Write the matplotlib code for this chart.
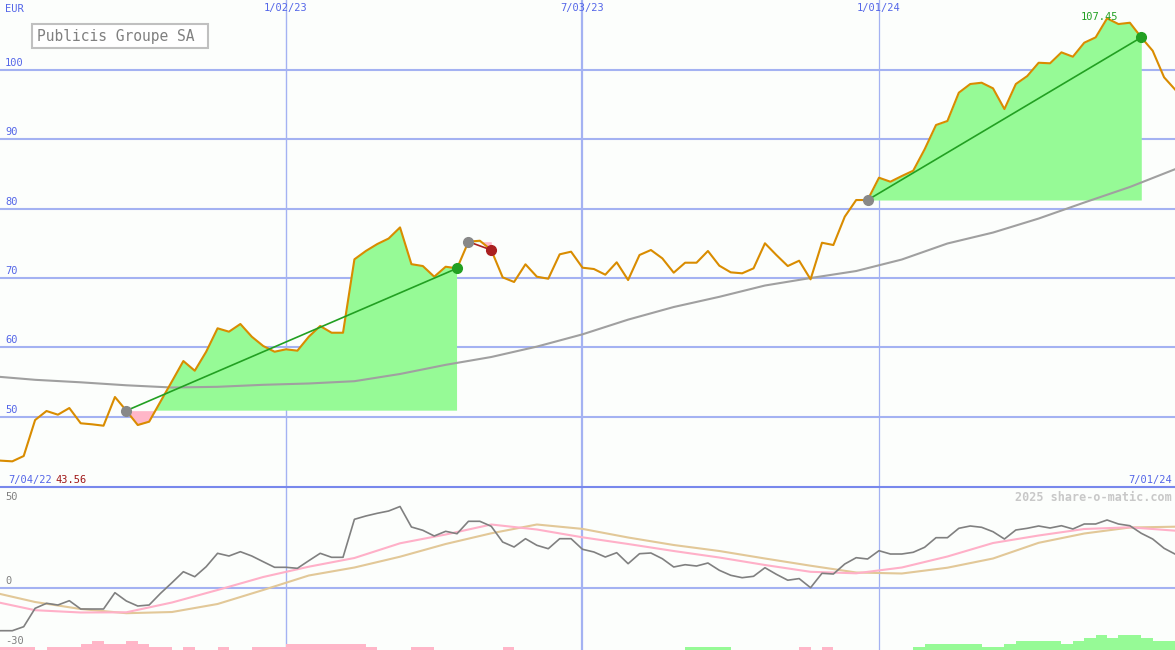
import numpy as np
import pandas as pd
import matplotlib
matplotlib.use('Agg')
import matplotlib.pyplot as plt
from matplotlib.lines import Line2D
from matplotlib.patches import Rectangle

# weekly closes (Monday dates), 4 Jul 2022 .. 1 Jul 2024
price = [43.80, 43.66, 43.56, 44.33, 49.52, 50.82, 50.29, 51.25, 49.05, 48.90,
         48.70, 52.84, 50.87, 48.80, 49.28, 52.20, 55.10, 58.03, 56.63, 59.37,
         62.75, 62.26, 63.37, 61.54, 60.20, 59.37, 59.72, 59.52, 61.54, 63.08,
         62.11, 62.11, 72.70, 73.90, 74.90, 75.70, 77.30, 72.00, 71.73, 70.19,
         71.63, 71.40, 75.24, 75.38, 74.04, 70.10, 69.43, 71.98, 70.19, 69.90,
         73.42, 73.80, 71.49, 71.30, 70.48, 72.27, 69.71, 73.32, 74.04, 72.84,
         70.77, 72.21, 72.21, 73.90, 71.78, 70.82, 70.68, 71.40, 75.01, 73.32,
         71.73, 72.50, 69.81, 75.09, 74.76, 78.85, 81.25, 81.25, 84.47, 83.89,
         84.71, 85.48, 88.56, 92.07, 92.65, 96.73, 97.98, 98.17, 97.36, 94.37,
         97.98, 99.13, 101.05, 100.97, 102.55, 101.92, 103.94, 104.71, 107.45, 106.63,
         106.82, 104.71, 102.78, 98.95, 97.12]

# long moving average, read every 4th week
ma_long = [55.87, 55.32, 54.96, 54.53, 54.21, 54.31, 54.60, 54.79, 55.12, 56.16,
           57.48, 58.61, 60.11, 61.88, 64.00, 65.82, 67.29, 68.92, 70.00, 71.01,
           72.67, 74.98, 76.56, 78.58, 80.89, 83.13, 85.72]

# lower panel: momentum (weekly) and its two averages (every 4th week)
momentum = [-21.5, -21.35, -21.35, -19.36, -10.23, -7.75, -8.59, -6.45, -10.58, -10.58,
            -10.58, -2.48, -6.60, -9.09, -8.59, -2.78, 2.48, 7.94, 5.46, 10.43,
            17.08, 15.74, 17.87, 15.74, 12.91, 10.13, 10.13, 9.63, 13.41, 17.08,
            15.09, 15.09, 33.96, 35.60, 36.94, 38.08, 40.32, 30.14, 28.50, 25.67,
            28.00, 26.81, 32.97, 32.97, 30.49, 22.69, 20.21, 24.33, 21.05, 19.36,
            24.33, 24.33, 19.07, 17.73, 15.24, 17.38, 11.92, 16.88, 17.23, 14.40,
            10.28, 11.42, 10.77, 12.26, 8.64, 6.16, 4.97, 5.66, 9.93, 6.65,
            3.72, 4.52, 0.00, 7.15, 6.80, 11.77, 14.90, 14.25, 18.37, 16.73,
            16.73, 17.58, 20.06, 24.83, 24.83, 29.49, 30.64, 29.99, 27.80, 24.18,
            28.65, 29.49, 30.64, 29.64, 30.78, 29.15, 31.63, 31.63, 33.61, 31.63,
            30.78, 27.01, 24.18, 19.56, 16.58]
signal_fast = [-6.36, -11.17, -12.31, -12.21, -7.35, -1.14, 5.31, 10.43, 14.75, 22.05,
               26.41, 31.38, 28.90, 25.02, 21.70, 18.22, 14.99, 11.27, 7.89, 7.15,
               10.03, 15.49, 22.19, 25.92, 29.15, 29.99, 28.30]
signal_slow = [-1.89, -7.10, -10.58, -12.66, -12.07, -8.09, -1.14, 6.06, 10.03, 15.39,
               21.70, 27.01, 31.38, 29.20, 24.93, 21.20, 18.22, 14.50, 10.92, 7.55,
               7.05, 9.93, 14.50, 22.29, 26.91, 29.89, 30.29]
# small strength bars along the bottom (negative = pink, positive = green)
hist_level = [-1, -1, -1, -1, 0, -1, -1, -1, -2, -3,
              -2, -2, -3, -2, -1, -1, 0, -1, 0, 0,
              -1, 0, 0, -1, -1, -1, -2, -2, -2, -2,
              -2, -2, -2, -1, 0, 0, 0, -1, -1, 0,
              0, 0, 0, 0, 0, -1, 0, 0, 0, 0,
              0, 0, 0, 0, 0, 0, 0, 0, 0, 0,
              0, 1, 1, 1, 1, 0, 0, 0, 0, 0,
              0, -1, 0, -1, 0, 0, 0, 0, 0, 0,
              0, 1, 2, 2, 2, 2, 2, 1, 1, 2,
              3, 3, 3, 3, 2, 3, 4, 5, 4, 5,
              5, 4, 3, 3, 0]

trades = [(12, 41), (42, 44), (77, 101)]  # entry / exit week index
grid_dates = ['2023-01-02', '2023-07-03', '2024-01-01']
grid_width = [1.0, 1.6, 0.9]
price_ticks = [50, 60, 70, 80, 90, 100]
osc_ticks = [50, 0, -30]

BG = '#fcfefc'
GRID = '#a4b2f2'
BLUE = '#5466e8'
ORANGE = '#d98c00'
GREEN_FILL = '#96fa96'
PINK = '#ffb6c8'
DKGREEN = '#22a022'
DKRED = '#aa2020'
MONO = 'DejaVu Sans Mono'

dates = pd.date_range('2022-07-04', periods=len(price), freq='7D')
ma_dates = dates[::4]
price = np.array(price)

fig = plt.figure(figsize=(11.75, 6.5), dpi=100, facecolor=BG)
ax = fig.add_axes([0, 163 / 650, 1, 487 / 650], facecolor=BG)
ax2 = fig.add_axes([0, 0, 1, 163 / 650], facecolor=BG)
xlim = (dates[0] + pd.Timedelta(days=6.45), dates[0] + pd.Timedelta(days=727.7))
for a in (ax, ax2):
    a.set_xlim(xlim)
    a.axis('off')
ax.set_ylim(39.86, 110.1)
ax2.set_ylim(-30.93, 50.0)

# grid
for v in price_ticks:
    ax.axhline(v, color=GRID, lw=1.5, zorder=0)
    ax.annotate(str(v), xy=(0, v), xycoords=('axes fraction', 'data'),
                xytext=(5, 2), textcoords='offset pixels', ha='left', va='bottom',
                color=BLUE, fontsize=7.5, family=MONO)
for d, w in zip(grid_dates, grid_width):
    d = pd.Timestamp(d)
    for a in (ax, ax2):
        a.axvline(d, color=GRID, lw=w, zorder=0)
    ax.annotate(f"{d.month}/{d.day:02d}/{d:%y}", xy=(d, 1), xycoords=('data', 'axes fraction'),
                xytext=(0, -3), textcoords='offset pixels', ha='center', va='top',
                color=BLUE, fontsize=7.5, family=MONO)
ax2.axhline(0, color=GRID, lw=1.5, zorder=0)
fig.add_artist(Line2D([0, 1], [163 / 650, 163 / 650], transform=fig.transFigure,
                      color='#7888ec', lw=1.5))

ax.text(5 / 1175, 1 - 4 / 487, 'EUR', transform=ax.transAxes, ha='left', va='top',
        color=BLUE, fontsize=7.5, family=MONO)

# trades: filled area relative to entry price, straight line, dots
for i0, i1 in trades:
    seg = slice(i0, i1 + 1)
    p_in = price[i0]
    ax.fill_between(dates[seg], price[seg], p_in, where=price[seg] >= p_in,
                    interpolate=True, color=GREEN_FILL, lw=0, zorder=1)
    ax.fill_between(dates[seg], price[seg], p_in, where=price[seg] < p_in,
                    interpolate=True, color=PINK, lw=0, zorder=1)
    win = price[i1] >= p_in
    c = DKGREEN if win else DKRED
    ax.plot([dates[i0], dates[i1]], [p_in, price[i1]], color=c, lw=1.2, zorder=4)

ax.plot(ma_dates, ma_long, color='#a0a0a0', lw=1.5, zorder=2)
ax.plot(dates, price, color=ORANGE, lw=1.5, zorder=3)

for i0, i1 in trades:
    c = DKGREEN if price[i1] >= price[i0] else DKRED
    ax.plot(dates[i0], price[i0], 'o', ms=7, color='#888888', zorder=5)
    ax.plot(dates[i1], price[i1], 'o', ms=7, color=c, zorder=5)

imax = int(np.argmax(price))
ax.annotate(f"{price[imax]:.2f}", xy=(dates[imax], price[imax]), xytext=(-8, -4),
            textcoords='offset pixels', ha='center', va='bottom', color=DKGREEN,
            fontsize=7.5, family=MONO, zorder=6)

ax.text(8 / 1175, 2 / 487, dates[0].strftime('%-m/%d/%y'), transform=ax.transAxes,
        ha='left', va='bottom', color=BLUE, fontsize=7.5, family=MONO)
ax.text(55 / 1175, 2 / 487, f"{price.min():.2f}", transform=ax.transAxes,
        ha='left', va='bottom', color='#a01818', fontsize=7.5, family=MONO)
ax.text(1 - 3 / 1175, 2 / 487, dates[-1].strftime('%-m/%d/%y'), transform=ax.transAxes,
        ha='right', va='bottom', color=BLUE, fontsize=7.5, family=MONO)

# title box
ax.add_patch(Rectangle((32 / 1175, 1 - 48 / 487), 176 / 1175, 24 / 487, transform=ax.transAxes,
                       facecolor='white', edgecolor='#c0c0c0', lw=1.5, zorder=7))
ax.text(37 / 1175, 1 - 36 / 487, 'Publicis Groupe SA', transform=ax.transAxes,
        ha='left', va='center', color='#808080', fontsize=10.5, family=MONO, zorder=8)

# lower panel
lvl = np.array(hist_level)
bar_h = np.abs(lvl) * 1.49
bar_c = [GREEN_FILL if v > 0 else PINK for v in lvl]
ax2.bar(dates, bar_h, width=7, align='edge', bottom=-30.93, color=bar_c, lw=0, zorder=1)
ax2.plot(ma_dates, signal_slow, color='#e2c898', lw=1.5, zorder=2)
ax2.plot(ma_dates, signal_fast, color='#ffb0c8', lw=1.5, zorder=3)
ax2.plot(dates, momentum, color='#808080', lw=1.2, zorder=4)

for v in osc_ticks:
    off, va = ((0, -5), 'top') if v == 50 else ((5, 2), 'bottom')
    ax2.annotate(str(v), xy=(0, v), xycoords=('axes fraction', 'data'),
                 xytext=(5, off[1]), textcoords='offset pixels', ha='left', va=va,
                 color='#808080', fontsize=7.5, family=MONO)
ax2.text(1 - 3 / 1175, 1 - 4 / 163, '2025 share-o-matic.com', transform=ax2.transAxes,
         ha='right', va='top', color='#c8c8c8', fontsize=8.5, family=MONO,
         fontweight='bold')

fig.savefig('out.png', dpi=100, facecolor=BG)
